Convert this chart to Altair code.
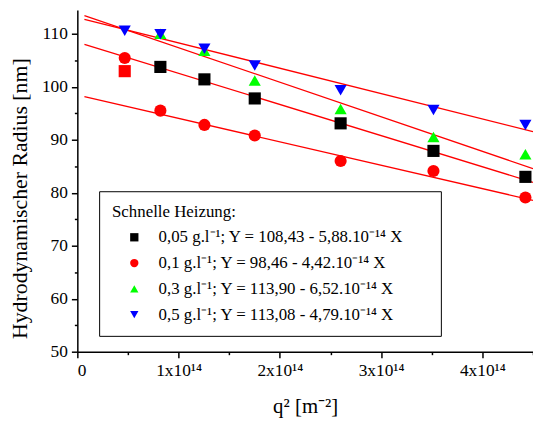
import altair as alt
import pandas as pd

# ---- data ----
q2 = [0.468e14, 0.82e14, 1.255e14, 1.752e14, 2.60e14, 3.517e14, 4.425e14]
r_005 = [102.95, 103.75, 101.4, 97.8, 93.1, 87.9, 83.0]
r_01 = [105.44, 95.5, 92.8, 90.8, 86.0, 84.1, 79.1]
r_03 = [None, 110.0, 106.8, 101.2, 95.8, 90.5, 87.25]
r_05 = [110.56, 109.9, 107.2, 104.0, 99.35, 95.6, 92.8]
hl_005 = [True, False, False, False, False, False, False]  # first point drawn red

labels = [
    "0,05 g.l\u207b\u00b9; Y = 108,43 - 5,88.10\u207b\u00b9\u2074 X",
    "0,1 g.l\u207b\u00b9; Y = 98,46 - 4,42.10\u207b\u00b9\u2074 X",
    "0,3 g.l\u207b\u00b9; Y = 113,90 - 6,52.10\u207b\u00b9\u2074 X",
    "0,5 g.l\u207b\u00b9; Y = 113,08 - 4,79.10\u207b\u00b9\u2074 X",
]
colors = ["#000000", "#ff0000", "#00ff00", "#0000ff"]
shapes = ["square", "circle", "triangle-up", "triangle-down"]

fit_intercept = [108.43, 98.46, 113.90, 113.08]
fit_slope = [5.88e-14, 4.42e-14, 6.52e-14, 4.79e-14]
fit_x = [0.07e14, 4.5e14]

# ---- tables ----
rows = []
for lab, ys, hl in zip(labels, [r_005, r_01, r_03, r_05],
                       [hl_005, [False] * 7, [False] * 7, [False] * 7]):
    for x, y, h in zip(q2, ys, hl):
        if y is not None:
            rows.append({"q2": x, "r": y, "series": lab, "hl": h})
points = pd.DataFrame(rows)

lrows = []
for lab, a, b in zip(labels, fit_intercept, fit_slope):
    for x in fit_x:
        lrows.append({"q2": x, "r": a - b * x, "series": lab})
lines = pd.DataFrame(lrows)

FONT = "Liberation Serif"
xdom = [0, 4.5e14]
ydom = [50, 114.5]

major_x = alt.Axis(values=[0, 1e14, 2e14, 3e14, 4e14],
                   labelExpr="datum.value == 0 ? '0' : format(datum.value/1e14, 'd') + 'x10\u00b9\u2074'",
                   title="q\u00b2 [m\u207b\u00b2]", orient="bottom",
                   tickSize=6, labelPadding=4, titlePadding=17, titleFontSize=21,
                   titleFont=FONT, titleFontWeight="normal", titleColor="black")
major_y = alt.Axis(values=[50, 60, 70, 80, 90, 100, 110], title="Hydrodynamischer Radius [nm]",
                   orient="left", tickSize=6, labelPadding=4, titlePadding=10, titleFontSize=22,
                   titleY=190,
                   titleFont=FONT, titleFontWeight="normal", titleColor="black")
minor_x = alt.Axis(values=[0.5e14, 1.5e14, 2.5e14, 3.5e14, 4.5e14], labels=False, domain=False,
                   orient="bottom", tickSize=3, title=None)
minor_y = alt.Axis(values=[55, 65, 75, 85, 95, 105], labels=False, domain=False,
                   orient="left", tickSize=3, title=None)

legend = alt.Legend(title="Schnelle Heizung:", orient="none", legendX=22, legendY=183,
                    strokeColor="black", fillColor="white", padding=13,
                    titleFont=FONT, titleFontSize=17, titleFontWeight="normal", titleColor="black",
                    titlePadding=8, labelFont=FONT, labelFontSize=17, labelColor="black",
                    labelExpr="datum.label + '\u2800\u2800'",
                    symbolSize=70, symbolOffset=14, labelOffset=16, rowPadding=8,
                    symbolStrokeWidth=0, labelLimit=400)

line_layer = alt.Chart(lines).mark_line(color="#ff0000", strokeWidth=1.3).encode(
    x=alt.X("q2:Q", scale=alt.Scale(domain=xdom, nice=False, zero=False), axis=minor_x),
    y=alt.Y("r:Q", scale=alt.Scale(domain=ydom, nice=False, zero=False), axis=minor_y),
    detail="series:N",
)

point_layer = alt.Chart(points).mark_point(filled=True, size=150, opacity=1, strokeWidth=0).encode(
    x=alt.X("q2:Q", scale=alt.Scale(domain=xdom, nice=False, zero=False), axis=major_x),
    y=alt.Y("r:Q", scale=alt.Scale(domain=ydom, nice=False, zero=False), axis=major_y),
    color=alt.condition("datum.hl",
                        alt.value("#ff0000"),
                        alt.Color("series:N", scale=alt.Scale(domain=labels, range=colors),
                                  legend=legend)),
    shape=alt.Shape("series:N", scale=alt.Scale(domain=labels, range=shapes), legend=legend),
)

chart = (
    alt.layer(line_layer, point_layer)
    .resolve_axis(x="independent", y="independent")
    .properties(width=460, height=345,
                autosize=alt.AutoSizeParams(type="none"),
                padding={"left": 70, "top": 0, "right": 0, "bottom": 70})
    .configure_view(stroke=None)
    .configure_axis(grid=False, domainColor="black", domainWidth=1.5, tickColor="black",
                    tickWidth=1.5, labelFont=FONT, labelFontSize=17.5, labelColor="black",
                    titleFont=FONT, titleColor="black", titleFontWeight="normal")
    .configure_legend(titleFont=FONT, labelFont=FONT, titleFontWeight="normal")
)

chart.save("out.html", embed_options={"renderer": "svg", "actions": False})
